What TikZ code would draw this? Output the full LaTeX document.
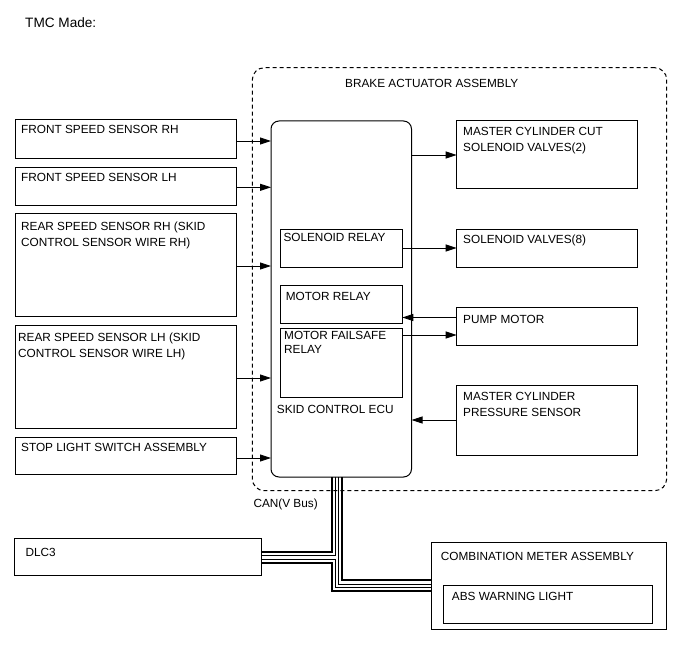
\documentclass[tikz,border=0pt]{standalone}
\usepackage{fontspec}
\setmainfont{Liberation Sans}
\usetikzlibrary{arrows.meta}
\begin{document}
\begin{tikzpicture}[x=1pt,y=-1pt,
  box/.style={draw, line width=1pt, inner sep=0pt, outer sep=0pt, anchor=north west},
  txt/.style={anchor=base west, inner sep=0pt, align=left, font=\fontsize{11.8}{16}\selectfont},
  arr/.style={line width=0.9pt, -{Triangle[length=11pt,width=7pt]}},
  thickbus/.style={line width=2.2pt},
  thinbus/.style={line width=0.9pt}]
\useasboundingbox (0,0) rectangle (688,658);

% assembly outline
\node[box, dash pattern=on 4pt off 3pt, rounded corners=12pt, minimum width=414.4pt, minimum height=423pt] (assy) at (252.3,67.7) {};
\node[txt] (tassy) at (345,87.7) {BRAKE ACTUATOR ASSEMBLY};
\node[txt, font=\fontsize{13.6}{16}\selectfont] (tmc) at (25,27.5) {TMC Made:};

% ECU
\node[box, rounded corners=8pt, minimum width=140.5pt, minimum height=356pt] (ecu) at (271,121) {};
\node[txt] (tecu) at (276.7,413) {SKID CONTROL ECU};
\node[box, minimum width=121.8pt, minimum height=38pt] (srel) at (280.5,229) {};
\node[box, minimum width=121.8pt, minimum height=38pt] (mrel) at (280.5,285.7) {};
\node[box, minimum width=121.8pt, minimum height=68.6pt] (mfs) at (280.5,328.7) {};
\node[txt] (tsrel) at (283.3,241.7) {SOLENOID RELAY};
\node[txt] (tmrel) at (285.7,300) {MOTOR RELAY};
\node[txt, font=\fontsize{11.8}{14}\selectfont] (tmfs) at (284,353.5) {MOTOR FAILSAFE\\RELAY};

% left boxes
\node[box, minimum width=221pt, minimum height=38.5pt] (frs) at (15.5,120) {};
\node[box, minimum width=221pt, minimum height=37.5pt] (fls) at (15.5,167.5) {};
\node[box, minimum width=221pt, minimum height=103pt] (rrs) at (15.5,213) {};
\node[box, minimum width=221pt, minimum height=103pt] (rls) at (15.5,325) {};
\node[box, minimum width=221pt, minimum height=37pt] (sls) at (15.5,437) {};
\node[txt] (tfrs) at (21,134) {FRONT SPEED SENSOR RH};
\node[txt] (tfls) at (21,181.5) {FRONT SPEED SENSOR LH};
\node[txt] (trrs) at (21,246) {REAR SPEED SENSOR RH (SKID\\CONTROL SENSOR WIRE RH)};
\node[txt] (trls) at (18,357) {REAR SPEED SENSOR LH (SKID\\CONTROL SENSOR WIRE LH)};
\node[txt] (tsls) at (21,451) {STOP LIGHT SWITCH ASSEMBLY};

% right boxes
\node[box, minimum width=180.3pt, minimum height=67pt] (mcc) at (456.7,121) {};
\node[box, minimum width=180.3pt, minimum height=38pt] (sv) at (456.7,229) {};
\node[box, minimum width=180.3pt, minimum height=38pt] (pm) at (456.7,307) {};
\node[box, minimum width=180.3pt, minimum height=70pt] (mcp) at (456.7,385) {};
\node[txt] (tmcc) at (463,151) {MASTER CYLINDER CUT\\SOLENOID VALVES(2)};
\node[txt] (tsv) at (463,243) {SOLENOID VALVES(8)};
\node[txt] (tpm) at (463,323) {PUMP MOTOR};
\node[txt] (tmcp) at (463,416.5) {MASTER CYLINDER\\PRESSURE SENSOR};

% bottom boxes
\node[box, minimum width=247.5pt, minimum height=37.4pt] (dlc) at (14,538.3) {};
\node[txt] (tdlc) at (25.3,556) {DLC3};
\node[box, minimum width=235.7pt, minimum height=86.7pt] (meter) at (431,542.3) {};
\node[txt] (tmeter) at (440.7,560) {COMBINATION METER ASSEMBLY};
\node[box, minimum width=209.4pt, minimum height=37.6pt] (abs) at (443.3,585.7) {};
\node[txt] (tabs) at (451.7,600) {ABS WARNING LIGHT};
\node[txt] (tcan) at (253.3,507.3) {CAN(V Bus)};

% arrows left
\draw[arr] (frs.east |- 0,141) -- (ecu.west |- 0,141);
\draw[arr] (fls.east |- 0,187.3) -- (ecu.west |- 0,187.3);
\draw[arr] (rrs.east |- 0,266) -- (ecu.west |- 0,266);
\draw[arr] (rls.east |- 0,378) -- (ecu.west |- 0,378);
\draw[arr] (sls.east |- 0,458) -- (ecu.west |- 0,458);

% arrows right
\draw[arr] (ecu.east |- 0,155) -- (mcc.west |- 0,155);
\draw[arr] (srel.east |- 0,248) -- (sv.west |- 0,248);
\draw[arr] (pm.west |- 0,317.5) -- (mrel.east |- 0,317.5);
\draw[arr] (mfs.east |- 0,335) -- (pm.west |- 0,335);
\draw[arr] (mcp.west |- 0,420) -- (ecu.east |- 0,420);

% CAN bus
\draw[thickbus] (ecu.south -| 331.8,0) |- (dlc.east |- 0,552.3);
\draw[thinbus] (ecu.south -| 335.3,0) |- (dlc.east |- 0,555.8);
\draw[thinbus] (dlc.east |- 0,559.3) -| (335.3,587.5) -- (meter.west |- 0,587.5);
\draw[thickbus] (dlc.east |- 0,563) -| (331.8,591.2) -- (meter.west |- 0,591.2);
\draw[thinbus] (ecu.south -| 338.8,0) |- (meter.west |- 0,584);
\draw[thickbus] (ecu.south -| 342.3,0) |- (meter.west |- 0,580.3);
\end{tikzpicture}
\end{document}
